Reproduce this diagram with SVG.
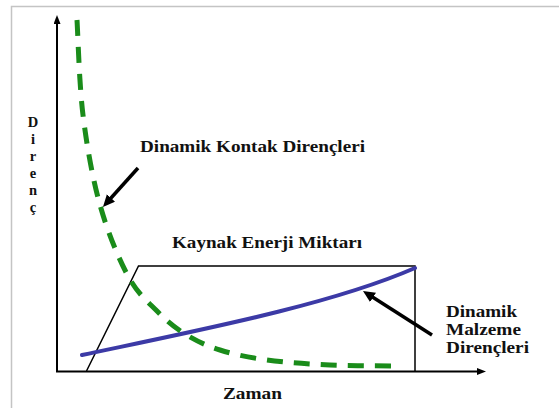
<svg xmlns="http://www.w3.org/2000/svg" width="559" height="408" viewBox="0 0 559 408">
  <style>
    .lbl { font-family: "Liberation Serif", "DejaVu Serif", "Times New Roman", serif; font-weight: bold; font-size: 17px; fill: #111; }
    .vl { font-family: "Liberation Serif", "DejaVu Serif", "Times New Roman", serif; font-weight: bold; font-size: 14.5px; fill: #111; text-anchor: middle; }
    .axis { stroke: #000; stroke-width: 2; fill: none; }
    .thin { stroke: #000; stroke-width: 1.5; fill: none; }
    .pointer { stroke: #000; stroke-width: 3.5; fill: none; }
  </style>
  <defs>
    <marker id="axhead" markerUnits="userSpaceOnUse" markerWidth="9" markerHeight="7" refX="3" refY="3.5" orient="auto">
      <path d="M0,0 L9,3.5 L0,7 z" fill="#000"/>
    </marker>
    <marker id="ptrhead" markerUnits="userSpaceOnUse" markerWidth="13" markerHeight="12" refX="4" refY="5.5" orient="auto">
      <path d="M0,0 L12,5.5 L0,11 z" fill="#000"/>
    </marker>
  </defs>
  <rect width="559" height="408" fill="#fff"/>
  <path d="M11.5,408 L11.5,6.5 L559,6.5" stroke="#c4c4c4" stroke-width="1.5" fill="none"/>

  <g id="axes">
    <line class="axis" x1="57" y1="372" x2="57" y2="21" marker-end="url(#axhead)"/>
    <line class="axis" x1="56" y1="371.5" x2="480" y2="371.5" marker-end="url(#axhead)"/>
  </g>

  <g id="axis-labels">
    <text class="vl" x="33" y="127">D</text>
    <text class="vl" x="33" y="144">i</text>
    <text class="vl" x="33" y="161">r</text>
    <text class="vl" x="33" y="178">e</text>
    <text class="vl" x="33" y="195">n</text>
    <text class="vl" x="33" y="212">ç</text>
    <text class="lbl" x="223" y="399" textLength="59" lengthAdjust="spacingAndGlyphs">Zaman</text>
  </g>

  <g id="kaynak-enerji">
    <path class="thin" d="M86.5,371 L138.5,266 L415,266 L415,371"/>
    <text class="lbl" x="172" y="248" textLength="190" lengthAdjust="spacingAndGlyphs">Kaynak Enerji Miktarı</text>
  </g>

  <g id="malzeme-curve">
    <path d="M82,355 C200,330 330,305 415,268" stroke="#3c3aa6" stroke-width="4" fill="none" stroke-linecap="round"/>
  </g>

  <g id="kontak-curve">
    <path d="M77,20 C78,35.8 79.2,84.2 83,115 C86.8,145.8 92.5,178.2 100,205 C107.5,231.8 118.5,258.3 128,276 C137.5,293.7 147.5,301.3 157,311 C166.5,320.7 174.5,327.5 185,334 C195.5,340.5 206.3,345.7 220,350 C233.7,354.3 248.7,357.5 267,360 C285.3,362.5 307.8,364 330,365 C352.2,366 388.3,365.8 400,366" stroke="#1a8c1a" stroke-width="5" fill="none" stroke-dasharray="16 11"/>
  </g>

  <g id="kontak-label">
    <text class="lbl" x="140" y="152" textLength="225" lengthAdjust="spacingAndGlyphs">Dinamik Kontak Dirençleri</text>
  </g>

  <g id="malzeme-label">
    <text class="lbl" x="446" y="317" textLength="71" lengthAdjust="spacingAndGlyphs">Dinamik</text>
    <text class="lbl" x="446" y="335" textLength="75" lengthAdjust="spacingAndGlyphs">Malzeme</text>
    <text class="lbl" x="446" y="353" textLength="83" lengthAdjust="spacingAndGlyphs">Dirençleri</text>
  </g>

  <g id="connectors">
    <line class="pointer" x1="138" y1="168" x2="108.3" y2="201" marker-end="url(#ptrhead)"/>
    <line class="pointer" x1="432" y1="335" x2="369.7" y2="295.3" marker-end="url(#ptrhead)"/>
  </g>
</svg>
